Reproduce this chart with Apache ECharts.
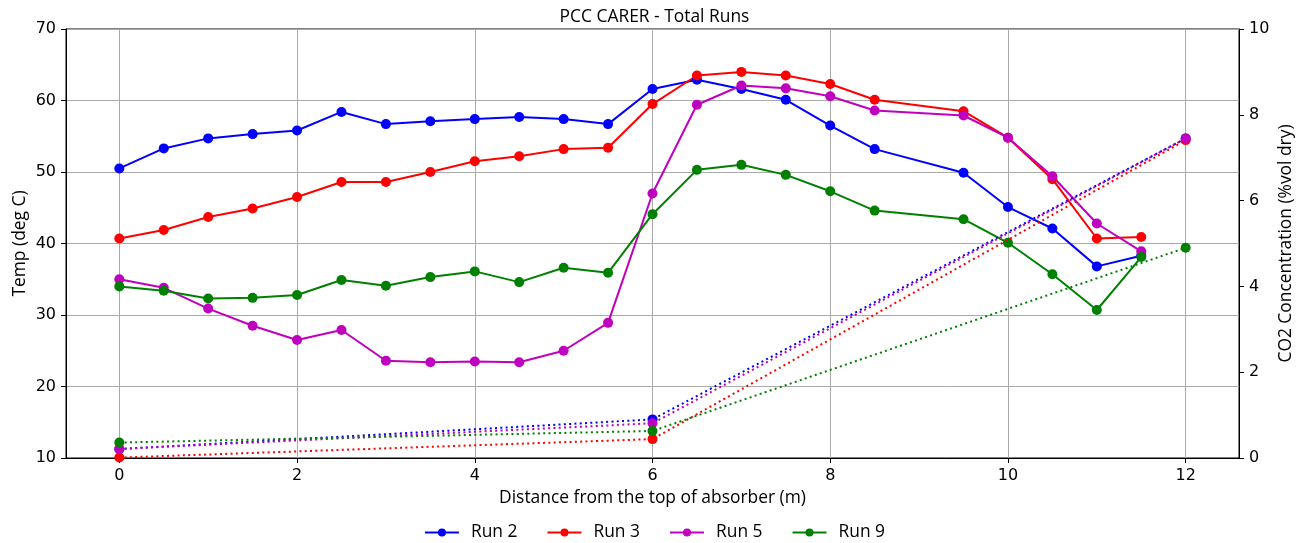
<!DOCTYPE html>
<html>
<head>
<meta charset="utf-8">
<script src="https://cdn.jsdelivr.net/npm/echarts@6/dist/echarts.min.js"></script>
<style>
html,body{margin:0;padding:0;background:#fff;}
#chart{width:1309px;height:543px;}
</style>
</head>
<body>
<div id="chart"></div>
<script>
var distance = [0,0.5,1,1.5,2,2.5,3,3.5,4,4.5,5,5.5,6,6.5,7,7.5,8,8.5,9.5,10,10.5,11,11.5];
var run2Temp = [50.5,53.3,54.7,55.3,55.8,58.4,56.7,57.1,57.4,57.7,57.4,56.7,61.6,62.9,61.6,60.1,56.5,53.2,49.9,45.1,42.1,36.8,38.3];
var run3Temp = [40.7,41.9,43.7,44.9,46.5,48.6,48.6,50.0,51.5,52.2,53.2,53.4,59.5,63.5,64.0,63.5,62.3,60.1,58.5,54.8,49.0,40.7,40.9];
var run5Temp = [35.0,33.8,30.9,28.5,26.5,27.9,23.6,23.4,23.5,23.4,25.0,28.9,47.0,59.4,62.1,61.7,60.6,58.6,57.9,54.8,49.4,42.8,38.9];
var run9Temp = [34.0,33.4,32.3,32.4,32.8,34.9,34.1,35.3,36.1,34.6,36.6,35.9,44.1,50.3,51.0,49.6,47.3,44.6,43.4,40.1,35.7,30.7,38.1];

var co2Distance = [0,6,12];
var run2CO2 = [0.21,0.90,7.45];
var run3CO2 = [0.01,0.44,7.41];
var run5CO2 = [0.21,0.81,7.45];
var run9CO2 = [0.36,0.63,4.90];

var runNames = ['Run 2','Run 3','Run 5','Run 9'];
var runColors = ['#0000ff','#ff0000','#bf00bf','#008000'];
var xTicks = [0,2,4,6,8,10,12];

function pairs(xs, ys){ return xs.map(function(x,i){ return [x, ys[i]]; }); }

var temps = [run2Temp, run3Temp, run5Temp, run9Temp];
var co2s = [run2CO2, run3CO2, run5CO2, run9CO2];
var series = [];
temps.forEach(function(t,i){
  series.push({
    name: runNames[i], type:'line', xAxisIndex:0, yAxisIndex:0,
    data: pairs(distance, t), symbol:'circle', symbolSize:10, showSymbol:true,
    itemStyle:{color:runColors[i]}, lineStyle:{color:runColors[i], width:2},
    z: 2, animation:false, emphasis:{disabled:true}
  });
});
co2s.forEach(function(c,i){
  series.push({
    name: runNames[i], type:'line', xAxisIndex:0, yAxisIndex:1,
    data: pairs(co2Distance, c), symbol:'circle', symbolSize:10, showSymbol:true,
    itemStyle:{color:runColors[i]}, lineStyle:{color:runColors[i], width:2, type:[2,3.3], cap:'butt'},
    z: 3, animation:false, emphasis:{disabled:true}
  });
});

var labelFont = 'Open Sans';
var labelSize = 17.4;

var chart = echarts.init(document.getElementById('chart'), null, {renderer:'canvas'});
chart.setOption({
  animation:false,
  backgroundColor:'#fff',
  title:{text:'PCC CARER - Total Runs', left:'center', top:4,
    textStyle:{fontFamily:labelFont, fontSize:labelSize, fontWeight:'normal', color:'#000'}},
  legend:{data:runNames, bottom:-3, left:'center', itemWidth:34, itemHeight:10, itemGap:29,
    textStyle:{fontFamily:labelFont, fontSize:labelSize, color:'#000', padding:[0,0,0,7]}},
  grid:{left:66, right:70, top:29, bottom:85, show:true, borderColor:'#000', borderWidth:1, containLabel:false},
  xAxis:[{
    type:'value', min:-0.6, max:12.6,
    name:'Distance from the top of absorber (m)', nameLocation:'middle', nameGap:32,
    nameTextStyle:{fontFamily:labelFont, fontSize:labelSize, color:'#000'},
    axisLine:{show:true, onZero:false, lineStyle:{color:'#000', width:1}},
    axisTick:{show:true, length:5, inside:false, customValues:xTicks, lineStyle:{color:'#000'}},
    axisLabel:{customValues:xTicks, margin:10, fontFamily:'DejaVu Sans', fontSize:16, color:'#000'},
    splitLine:{show:true, customValues:xTicks, lineStyle:{color:'#aaaaaa', width:1}}
  }],
  yAxis:[{
    type:'value', min:10, max:70, interval:10, position:'left',
    name:'Temp (deg C)', nameLocation:'middle', nameGap:37, nameRotate:90, nameMoveOverlap:false,
    nameTextStyle:{fontFamily:labelFont, fontSize:labelSize, color:'#000'},
    axisLine:{show:true, onZero:false, lineStyle:{color:'#000', width:1}},
    axisTick:{show:true, length:5, lineStyle:{color:'#000'}},
    axisLabel:{margin:10, fontFamily:'DejaVu Sans', fontSize:16, color:'#000'},
    splitLine:{show:true, lineStyle:{color:'#aaaaaa', width:1}}
  },{
    type:'value', min:0, max:10, interval:2, position:'right',
    name:'CO2 Concentration (%vol dry)', nameLocation:'middle', nameGap:39, nameRotate:90, nameMoveOverlap:false,
    nameTextStyle:{fontFamily:labelFont, fontSize:labelSize, color:'#000'},
    axisLine:{show:true, onZero:false, lineStyle:{color:'#000', width:1}},
    axisTick:{show:true, length:5, lineStyle:{color:'#000'}},
    axisLabel:{margin:10, fontFamily:'DejaVu Sans', fontSize:16, color:'#000'},
    splitLine:{show:false}
  }],
  series: series
});
</script>
</body>
</html>
